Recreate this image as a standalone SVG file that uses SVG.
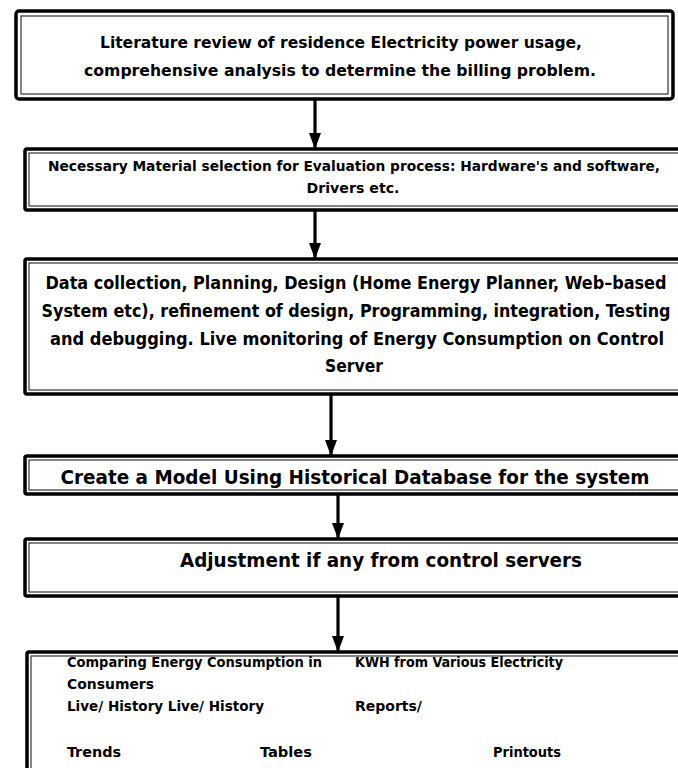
<svg xmlns="http://www.w3.org/2000/svg" width="678" height="768" viewBox="0 0 678 768">
  <defs>
    <marker id="head" markerWidth="16" markerHeight="12" refX="16" refY="6" orient="auto" markerUnits="userSpaceOnUse" viewBox="0 0 16 12">
      <path d="M0,0 L16,6 L0,12 Z" fill="#000"/>
    </marker>
  </defs>
  <style>
    .outer { fill: #fff; stroke: #000; stroke-width: 3.5; }
    .inner { fill: none; stroke: #333; stroke-width: 1.2; }
    .t { font-family: "DejaVu Sans Condensed", "Liberation Sans", sans-serif; font-weight: bold; fill: #000; }
    .conn { stroke: #000; stroke-width: 3.2; fill: none; }
  </style>
  <rect width="678" height="768" fill="#fff"/>

  <!-- step 1 -->
  <g id="step1">
    <rect class="outer" x="16" y="11" width="657" height="88" rx="3" stroke-width="4"/>
    <rect class="inner" x="21" y="16" width="647" height="78"/>
    <text class="t" x="341" y="48" font-size="16" text-anchor="middle" textLength="482" lengthAdjust="spacingAndGlyphs">Literature review of residence Electricity power usage,</text>
    <text class="t" x="340" y="76" font-size="16" text-anchor="middle" textLength="512" lengthAdjust="spacingAndGlyphs">comprehensive analysis to determine the billing problem.</text>
  </g>

  <!-- step 2 -->
  <g id="step2">
    <rect class="outer" x="25" y="149" width="660" height="61" rx="2"/>
    <rect class="inner" x="29" y="153" width="660" height="53"/>
    <text class="t" x="354" y="171" font-size="14" text-anchor="middle" textLength="612" lengthAdjust="spacingAndGlyphs">Necessary  Material selection for Evaluation process: Hardware's and software,</text>
    <text class="t" x="353" y="193" font-size="14" text-anchor="middle" textLength="93" lengthAdjust="spacingAndGlyphs">Drivers etc.</text>
  </g>

  <!-- step 3 -->
  <g id="step3">
    <rect class="outer" x="25" y="259" width="660" height="135" rx="2"/>
    <rect class="inner" x="29" y="263" width="660" height="127"/>
    <text class="t" x="356" y="289" font-size="17" text-anchor="middle" textLength="621" lengthAdjust="spacingAndGlyphs">Data collection, Planning, Design (Home Energy Planner, Web–based</text>
    <text class="t" x="356" y="317" font-size="17" text-anchor="middle" textLength="629" lengthAdjust="spacingAndGlyphs">System etc), refinement of design, Programming, integration, Testing</text>
    <text class="t" x="357" y="345" font-size="17" text-anchor="middle" textLength="614" lengthAdjust="spacingAndGlyphs">and debugging. Live monitoring of Energy Consumption on Control</text>
    <text class="t" x="354" y="372" font-size="17" text-anchor="middle" textLength="58" lengthAdjust="spacingAndGlyphs">Server</text>
  </g>

  <!-- step 4 -->
  <g id="step4">
    <rect class="outer" x="25" y="456" width="660" height="38" rx="2"/>
    <rect class="inner" x="29" y="460" width="660" height="30"/>
    <text class="t" x="355" y="484" font-size="20" text-anchor="middle" textLength="589" lengthAdjust="spacingAndGlyphs">Create a Model Using Historical Database for the system</text>
  </g>

  <!-- step 5 -->
  <g id="step5">
    <rect class="outer" x="25" y="539" width="660" height="57" rx="2"/>
    <rect class="inner" x="29" y="543" width="660" height="49"/>
    <text class="t" x="381" y="567" font-size="20" text-anchor="middle" textLength="402" lengthAdjust="spacingAndGlyphs">Adjustment if any from control servers</text>
  </g>

  <!-- outputs -->
  <g id="outputs">
    <rect class="outer" x="27" y="652" width="660" height="130" rx="2"/>
    <rect class="inner" x="31" y="656" width="660" height="130"/>
    <text class="t" x="67" y="667" font-size="14" textLength="255" lengthAdjust="spacingAndGlyphs">Comparing Energy Consumption in</text>
    <text class="t" x="355" y="667" font-size="14" textLength="208" lengthAdjust="spacingAndGlyphs">KWH from Various Electricity</text>
    <text class="t" x="67" y="689" font-size="14" textLength="87" lengthAdjust="spacingAndGlyphs">Consumers</text>
    <text class="t" x="67" y="711" font-size="14" textLength="197" lengthAdjust="spacingAndGlyphs">Live/ History Live/ History</text>
    <text class="t" x="355" y="711" font-size="14" textLength="67" lengthAdjust="spacingAndGlyphs">Reports/</text>
    <text class="t" x="67" y="757" font-size="14" textLength="54" lengthAdjust="spacingAndGlyphs">Trends</text>
    <text class="t" x="260" y="757" font-size="14" textLength="52" lengthAdjust="spacingAndGlyphs">Tables</text>
    <text class="t" x="493" y="757" font-size="14" textLength="68" lengthAdjust="spacingAndGlyphs">Printouts</text>
  </g>

  <!-- connectors -->
  <g id="connectors">
    <line class="conn" x1="315" y1="100" x2="315" y2="149" marker-end="url(#head)"/>
    <line class="conn" x1="315" y1="211" x2="315" y2="259" marker-end="url(#head)"/>
    <line class="conn" x1="331" y1="395" x2="331" y2="456" marker-end="url(#head)"/>
    <line class="conn" x1="338" y1="495" x2="338" y2="539" marker-end="url(#head)"/>
    <line class="conn" x1="338" y1="597" x2="338" y2="652" marker-end="url(#head)"/>
  </g>
</svg>
